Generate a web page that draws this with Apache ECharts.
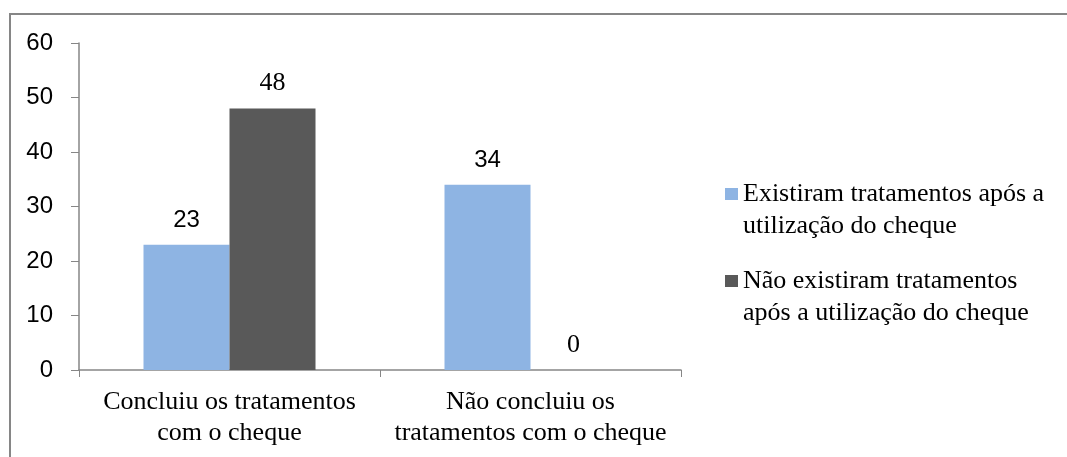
<!DOCTYPE html>
<html>
<head>
<meta charset="utf-8">
<script src="https://cdn.jsdelivr.net/npm/echarts@6/dist/echarts.min.js"></script>
<style>
  html, body { margin: 0; padding: 0; background: #fff; }
  #chart { width: 1067px; height: 457px; }
</style>
</head>
<body>
<div id="chart"></div>
<script>
// data
var categories = ['Concluiu os tratamentos\ncom o cheque', 'Não concluiu os\ntratamentos com o cheque']
var seriesNames = ['Existiram tratamentos após a\nutilização do cheque', 'Não existiram tratamentos\napós a utilização do cheque']
var existiram = [23, 34]
var naoExistiram = [48, 0]
var yTicks = [0, 10, 20, 30, 40, 50, 60]

var axisGray = '#868686'
var serif = '"Liberation Serif", "Times New Roman", serif'
var sans = '"Liberation Sans", Arial, sans-serif'

var chart = echarts.init(document.getElementById('chart'))

function legendFor(name, top) {
  return {
    data: [name],
    orient: 'vertical',
    left: 725,
    top: top,
    padding: 0,
    itemWidth: 13,
    itemHeight: 12,
    icon: 'rect',
    itemGap: 0,
    formatter: function (n) { return '\n' + n },
    textStyle: { fontFamily: serif, fontSize: 26, lineHeight: 32, color: '#000' }
  }
}

chart.setOption({
  animation: false,
  graphic: [
    {
      type: 'polyline',
      shape: { points: [[10, 457], [10, 14], [1067, 14]] },
      style: { stroke: axisGray, lineWidth: 2, fill: null }
    }
  ],
  grid: { left: 79, right: 386, top: 43, bottom: 87 },
  legend: [legendFor(seriesNames[0], 146), legendFor(seriesNames[1], 233)],
  xAxis: {
    type: 'category',
    data: categories,
    axisLine: { lineStyle: { color: axisGray, width: 1.5 } },
    axisTick: { show: true, length: 7, lineStyle: { color: axisGray } },
    axisLabel: { fontFamily: serif, fontSize: 26, lineHeight: 31, color: '#000', margin: 17, interval: 0 }
  },
  yAxis: {
    type: 'value',
    min: yTicks[0],
    max: yTicks[yTicks.length - 1],
    interval: 10,
    splitLine: { show: false },
    axisLine: { show: true, lineStyle: { color: axisGray, width: 1.5 } },
    axisTick: { show: true, length: 8, lineStyle: { color: axisGray } },
    axisLabel: { fontFamily: sans, fontSize: 24, color: '#000', margin: 26 }
  },
  series: [
    {
      name: seriesNames[0],
      type: 'bar',
      data: existiram,
      barWidth: 86,
      barGap: '0%',
      itemStyle: { color: '#8EB4E3' },
      label: { show: true, position: 'top', distance: 12, fontFamily: sans, fontSize: 24, color: '#000' }
    },
    {
      name: seriesNames[1],
      type: 'bar',
      data: naoExistiram,
      barWidth: 86,
      barGap: '0%',
      itemStyle: { color: '#595959' },
      label: { show: true, position: 'top', distance: 12, fontFamily: serif, fontSize: 26, color: '#000' }
    }
  ]
})
</script>
</body>
</html>
